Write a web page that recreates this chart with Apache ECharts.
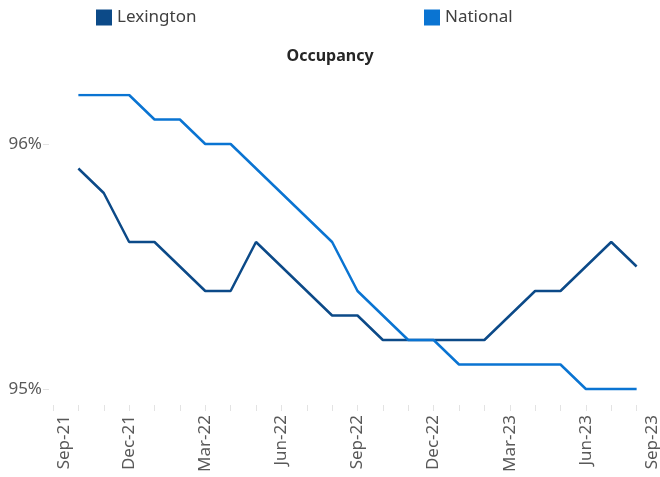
<!DOCTYPE html>
<html>
<head>
<meta charset="utf-8">
<title>Occupancy</title>
<script src="https://cdn.jsdelivr.net/npm/echarts@6/dist/echarts.min.js"></script>
<style>
  html, body { margin: 0; padding: 0; background: #fff; }
  #chart { width: 660px; height: 477px; }
</style>
</head>
<body>
<div id="chart"></div>
<script>
// months on the axis, Sep-21 .. Sep-23
const months = [
  'Sep-21', 'Oct-21', 'Nov-21', 'Dec-21', 'Jan-22', 'Feb-22', 'Mar-22', 'Apr-22', 'May-22',
  'Jun-22', 'Jul-22', 'Aug-22', 'Sep-22', 'Oct-22', 'Nov-22', 'Dec-22', 'Jan-23', 'Feb-23',
  'Mar-23', 'Apr-23', 'May-23', 'Jun-23', 'Jul-23', 'Aug-23', 'Sep-23'
]
// occupancy in %, no value for the first and last month
const lexington = [
  null, 95.9, 95.8, 95.6, 95.6, 95.5, 95.4, 95.4, 95.6, 95.5, 95.4, 95.3, 95.3,
  95.2, 95.2, 95.2, 95.2, 95.2, 95.3, 95.4, 95.4, 95.5, 95.6, 95.5, null
]
const national = [
  null, 96.2, 96.2, 96.2, 96.1, 96.1, 96.0, 96.0, 95.9, 95.8, 95.7, 95.6, 95.4,
  95.3, 95.2, 95.2, 95.1, 95.1, 95.1, 95.1, 95.1, 95.0, 95.0, 95.0, null
]
const yTicks = [95, 96]

const font = '"Noto Sans", "Open Sans", sans-serif'
const lexColor = '#0c4a88'
const natColor = '#0a74d2'

const chart = echarts.init(document.getElementById('chart'))

const labelStyle = { fontFamily: font, fontSize: 17, color: '#595959' }

const option = {
  animation: false,
  title: {
    text: 'Occupancy',
    left: 'center',
    top: 43,
    textStyle: { fontFamily: font, fontSize: 16, fontWeight: 'bold', color: '#262626' }
  },
  legend: [
    {
      data: ['Lexington'],
      left: 91,
      top: 4,
      icon: 'rect',
      itemWidth: 16,
      itemHeight: 16,
      itemGap: 6,
      textStyle: { fontFamily: font, fontSize: 17, color: '#404040' }
    },
    {
      data: ['National'],
      left: 419,
      top: 4,
      icon: 'rect',
      itemWidth: 16,
      itemHeight: 16,
      textStyle: { fontFamily: font, fontSize: 17, color: '#404040' }
    }
  ],
  grid: {
    left: 53,
    right: -2,
    top: 95,
    bottom: 72,
    outerBoundsMode: 'none'
  },
  xAxis: {
    type: 'category',
    boundaryGap: false,
    data: months,
    axisLine: { show: false },
    axisTick: {
      show: true,
      interval: 0,
      length: 6,
      lineStyle: { color: '#e3e3e3' }
    },
    axisLabel: {
      interval: 2,
      rotate: 90,
      margin: 10,
      hideOverlap: false,
      ...labelStyle,
      // first and last label are pushed inwards like in the original
      formatter: (v, i) => {
        if (i === 0) return '{first|' + v + '}'
        if (i === months.length - 1) return '{last|' + v + '}'
        return v
      },
      rich: {
        first: { ...labelStyle, padding: [22, 0, 0, 0] },
        last: { ...labelStyle, padding: [0, 0, 20, 0] }
      }
    },
    splitLine: { show: false }
  },
  yAxis: {
    type: 'value',
    min: 94.9347,
    max: 96.2,
    offset: 4,
    axisLine: { show: false },
    axisTick: {
      show: true,
      length: 6,
      customValues: yTicks,
      lineStyle: { color: '#e3e3e3' }
    },
    axisLabel: {
      customValues: yTicks,
      margin: 7,
      ...labelStyle,
      formatter: v => Math.round(v) + '%'
    },
    splitLine: { show: false }
  },
  series: [
    {
      name: 'Lexington',
      type: 'line',
      data: lexington,
      color: lexColor,
      showSymbol: false,
      lineStyle: { width: 2.5, color: lexColor }
    },
    {
      name: 'National',
      type: 'line',
      data: national,
      color: natColor,
      showSymbol: false,
      lineStyle: { width: 2.5, color: natColor }
    }
  ]
}

chart.setOption(option)
</script>
</body>
</html>
